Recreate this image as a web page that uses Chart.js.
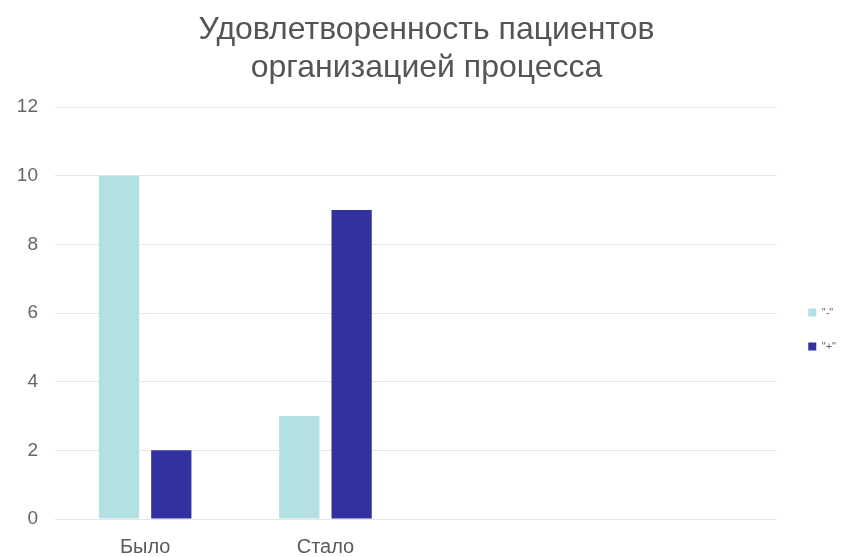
<!DOCTYPE html>
<html>
<head>
<meta charset="utf-8">
<script src="https://cdn.jsdelivr.net/npm/chart.js@4.4.0/dist/chart.umd.min.js"></script>
<style>
  html, body { margin: 0; padding: 0; background: #fff; }
  #wrap { width: 851px; height: 557px; }
</style>
</head>
<body>
<div id="wrap"><canvas id="myChart"></canvas></div>
<script>
// Категории и значения
const categories = ["Было", "Стало", "", ""];
const minusValues = [10, 3, null, null];
const plusValues = [2, 9, null, null];
const yTicks = [0, 2, 4, 6, 8, 10, 12];

function renderChart() {
  const ctx = document.getElementById("myChart");

  new Chart(ctx, {
    type: "bar",
    data: {
      labels: categories,
      datasets: [
        {
          label: '"-"',
          data: minusValues,
          backgroundColor: "#b3e0e2",
          categoryPercentage: 0.58,
          barPercentage: 0.77,
        },
        {
          label: '"+"',
          data: plusValues,
          backgroundColor: "#3331a0",
          categoryPercentage: 0.58,
          barPercentage: 0.77,
        },
      ],
    },
    options: {
      responsive: true,
      maintainAspectRatio: false,
      animation: false,
      layout: { padding: { left: 16, right: 14, top: 8, bottom: 0 } },
      plugins: {
        title: {
          display: true,
          text: ["Удовлетворенность пациентов", "организацией процесса"],
          color: "#555555",
          font: { family: "Liberation Sans", size: 32, weight: "normal", lineHeight: 1.19 },
          padding: { top: 3, bottom: 20 },
        },
        legend: {
          position: "right",
          // пустой заголовок сдвигает легенду вниз
          title: {
            display: true,
            text: "",
            font: { size: 10 },
            padding: { top: 0, bottom: 82 },
          },
          labels: {
            color: "#666666",
            font: { family: "Liberation Sans", size: 11 },
            boxWidth: 8,
            boxHeight: 8,
            padding: 23,
          },
        },
        tooltip: { enabled: false },
      },
      scales: {
        x: {
          grid: { display: false, drawTicks: true, tickLength: 18 },
          border: { display: false },
          ticks: {
            color: "#5a5a5a",
            font: { family: "Liberation Sans", size: 20, lineHeight: 1 },
            padding: 0,
          },
        },
        y: {
          min: 0,
          max: 12,
          afterBuildTicks: (axis) => {
            axis.ticks = yTicks.map((v) => ({ value: v }));
          },
          afterFit: (axis) => {
            axis.width = 39;
          },
          grid: { color: "#e6e6e6", drawTicks: false },
          border: { display: false },
          ticks: {
            color: "#666666",
            font: { family: "Liberation Sans", size: 19 },
            padding: 17,
          },
        },
      },
    },
    plugins: [
      {
        // легенду чуть правее
        id: "legendShift",
        afterLayout(chart) {
          chart.legend.left += 9;
          chart.legend.right += 9;
        },
      },
    ],
  });
}

renderChart();
</script>
</body>
</html>
